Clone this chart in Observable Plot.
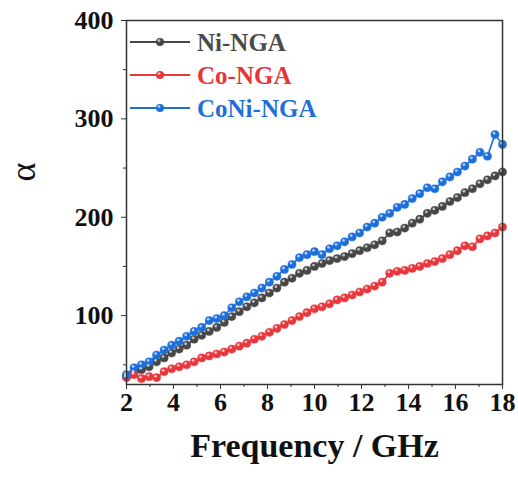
<!DOCTYPE html>
<html>
<head>
<meta charset="utf-8">
<script src="https://cdn.jsdelivr.net/npm/d3@7"></script>
<script src="https://cdn.jsdelivr.net/npm/@observablehq/plot@0.6"></script>
<style>
  html, body { margin: 0; padding: 0; background: white; }
  #chart { position: relative; width: 518px; height: 482px; }
</style>
</head>
<body>
<div id="chart"></div>
<script>
const freq = [2.00, 2.32, 2.64, 2.96, 3.28, 3.60, 3.92, 4.24, 4.56, 4.88,
  5.20, 5.52, 5.84, 6.16, 6.48, 6.80, 7.12, 7.44, 7.76, 8.08,
  8.40, 8.72, 9.04, 9.36, 9.68, 10.00, 10.32, 10.64, 10.96, 11.28,
  11.60, 11.92, 12.24, 12.56, 12.88, 13.20, 13.52, 13.84, 14.16, 14.48,
  14.80, 15.12, 15.44, 15.76, 16.08, 16.40, 16.72, 17.04, 17.36, 17.68, 18.00];

const niNGA = [38, 42, 45, 48, 53, 57, 62, 66, 70, 76,
  80, 84, 88, 93, 99, 104, 109, 113, 118, 123,
  128, 134, 138, 143, 146, 150, 153, 156, 158, 160,
  163, 166, 169, 172, 176, 184, 185, 189, 194, 198,
  204, 207, 211, 216, 220, 225, 229, 234, 238, 242, 246];

const coNGA = [37, 40, 36, 38, 37, 43, 46, 48, 50, 53,
  57, 59, 61, 63, 66, 69, 72, 76, 79, 83,
  87, 91, 95, 99, 103, 107, 109, 112, 116, 118,
  121, 124, 127, 130, 134, 143, 145, 146, 148, 150,
  153, 155, 158, 162, 166, 171, 170, 178, 181, 184, 190];

const coniNGA = [40, 47, 50, 53, 60, 65, 70, 74, 79, 84,
  88, 95, 97, 100, 108, 114, 119, 123, 128, 134,
  140, 147, 152, 159, 162, 165, 162, 168, 171, 175,
  180, 184, 190, 194, 200, 204, 210, 213, 219, 224,
  230, 229, 236, 241, 246, 252, 259, 266, 262, 284, 274];

const seriesNames = ["Ni-NGA", "Co-NGA", "CoNi-NGA"];
const seriesValues = [niNGA, coNGA, coniNGA];
const seriesColors = ["#474747", "#e8373c", "#1c6fdb"];
const legendTextColors = ["#4a4a4a", "#e53538", "#1f6fd6"];

const xMajorTicks = [2, 4, 6, 8, 10, 12, 14, 16, 18];
const xMinorTicks = [3, 5, 7, 9, 11, 13, 15, 17];
const yMajorTicks = [100, 200, 300, 400];
const yMinorTicks = [50, 150, 250, 350];

const data = seriesNames.flatMap((s, i) =>
  freq.map((f, j) => ({series: s, f, v: seriesValues[i][j]})));

const serif = "Liberation Serif, serif";

const chart = Plot.plot({
  width: 518,
  height: 482,
  marginLeft: 126,
  marginRight: 16,
  marginTop: 20,
  marginBottom: 98,
  x: {domain: [2, 18]},
  y: {domain: [30, 400]},
  color: {domain: seriesNames, range: seriesColors},
  style: {fontFamily: serif, fontWeight: "bold", fontSize: "26px", color: "#111", background: "white"},
  marks: [
    Plot.line(data, {x: "f", y: "v", z: "series", stroke: "series", strokeWidth: 1.6}),
    Plot.dot(data, {x: "f", y: "v", r: 4.1, fill: "series", stroke: "series", strokeWidth: 0.4}),
    Plot.dot(data, {x: "f", y: "v", r: 1.4, fill: "white", fillOpacity: 0.65, dx: -1, dy: -1.4}),
    Plot.axisX({ticks: xMajorTicks, tickSize: 5, tickPadding: 3, label: null, stroke: "#333", tickFormat: d => String(d)}),
    Plot.axisX({ticks: xMinorTicks, tickSize: 3, label: null, stroke: "#333", tickFormat: () => ""}),
    Plot.axisY({ticks: yMajorTicks, tickSize: 5, tickPadding: 8, label: null, stroke: "#333", tickFormat: d => String(d)}),
    Plot.axisY({ticks: yMinorTicks, tickSize: 3, label: null, stroke: "#333", tickFormat: () => ""}),
    Plot.frame({stroke: "#333", strokeWidth: 1.5}),
    Plot.text(["Frequency / GHz"], {frameAnchor: "bottom", dy: 72, fontSize: 34, fontWeight: "bold", fill: "#111"}),
    Plot.text(["α"], {frameAnchor: "left", dx: -103, dy: -21, rotate: -90, fontSize: 36, fontWeight: "normal", fill: "#111"})
  ]
});

document.getElementById("chart").appendChild(chart);

// Legend inside the plot frame
const svg = d3.select(chart);
const lg = svg.append("g").attr("transform", "translate(130,42)");
seriesNames.forEach((name, i) => {
  const g = lg.append("g").attr("transform", `translate(0,${i * 33})`);
  g.append("line").attr("x1", 0).attr("x2", 60).attr("y1", 0).attr("y2", 0)
    .attr("stroke", seriesColors[i]).attr("stroke-width", 2);
  g.append("circle").attr("cx", 30).attr("cy", 0).attr("r", 4).attr("fill", seriesColors[i]);
  g.append("circle").attr("cx", 29).attr("cy", -1.4).attr("r", 1.4).attr("fill", "white").attr("fill-opacity", 0.65);
  g.append("text").attr("x", 67).attr("y", 0).attr("dy", "0.35em")
    .attr("text-anchor", "start")
    .attr("fill", legendTextColors[i]).attr("font-size", 25).attr("font-weight", "bold")
    .attr("font-family", serif).text(name);
});
</script>
</body>
</html>
